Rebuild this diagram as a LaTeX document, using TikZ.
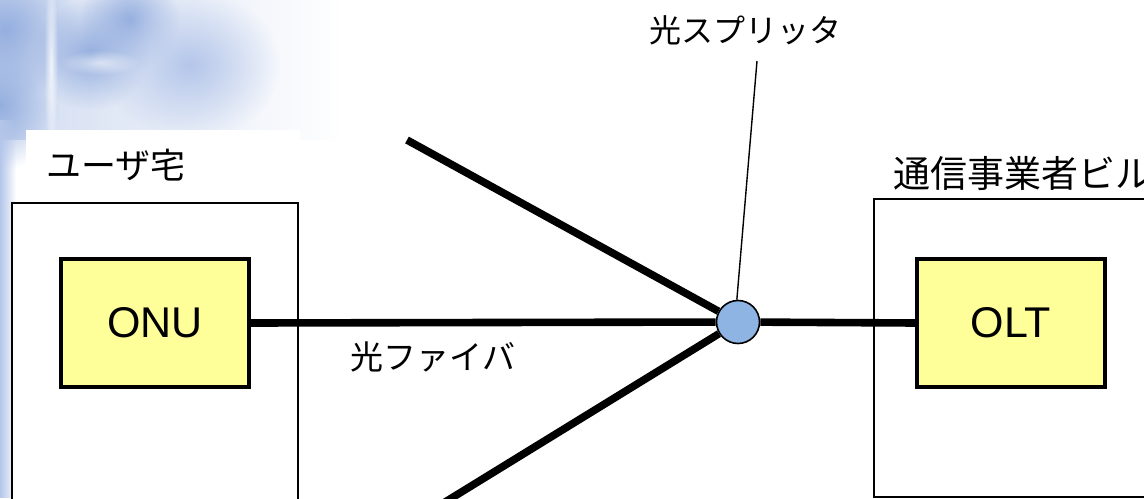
\documentclass[tikz,border=0pt]{standalone}
\usepackage{fontspec}
\setmainfont{Liberation Sans}
\newfontfamily\jpfont{Noto Sans CJK JP}
\usetikzlibrary{fadings}
\tikzfading[name=softblob, inner color=transparent!0, outer color=transparent!100]
\definecolor{boxyellow}{HTML}{FFFF99}
\definecolor{splblue}{HTML}{8DB4E2}
\definecolor{bgblueA}{HTML}{94AEDF}
\definecolor{bgblueB}{HTML}{D2DDF2}
\definecolor{bgblueC}{HTML}{B4C6EA}
\tikzset{
  bldg/.style={draw=black, line width=0.8pt, fill=white, rectangle, inner sep=0pt},
  device/.style={draw=black, line width=1.6pt, fill=boxyellow, rectangle, inner sep=0pt,
    minimum width=94pt, minimum height=64pt, font=\fontsize{21.5pt}{22pt}\selectfont},
  fiber/.style={line width=3.8pt, line cap=butt},
  splitter/.style={circle, draw=black, line width=0.8pt, fill=splblue, minimum size=21.5pt, inner sep=0pt},
  jplabel/.style={inner sep=0pt, font=\jpfont\fontsize{16pt}{16pt}\selectfont},
  leader/.style={line width=0.7pt}
}
\begin{document}
\begin{tikzpicture}[x=0.5pt, y=-0.5pt]
\useasboundingbox (0,0) rectangle (1144,498);
\clip (0,0) rectangle (1144,498);
\fill[white] (0,0) rectangle (1144,498);
% blurred background picture (top-left)
\fill[bgblueB, path fading=east] (0,0) rectangle (340,140);
\fill[bgblueA, path fading=softblob] (-70,-40) rectangle (80,100);
\fill[bgblueA, path fading=softblob] (-60,40) rectangle (60,170);
\fill[bgblueA, path fading=softblob] (30,0) rectangle (150,110);
\fill[bgblueA, path fading=softblob] (80,-30) rectangle (180,70);
\fill[bgblueC, path fading=softblob] (100,-10) rectangle (280,140);
\fill[white, opacity=0.8, path fading=softblob] (44,-40) rectangle (58,170);
\fill[white, opacity=0.6, path fading=softblob] (60,50) rectangle (140,75);
\fill[bgblueC, path fading=east] (0,120) rectangle (16,498);
% buildings
\node[bldg, minimum width=143pt, minimum height=180pt] (user) at (155,383) {};
\node[bldg, minimum width=143pt, minimum height=149pt] (carrier) at (1017,348) {};
\fill[white] (26,130) rectangle (300,195);
\node[jplabel, anchor=west, font=\jpfont\fontsize{17.5pt}{17.5pt}\selectfont] (userlbl) at (46,165) {ユーザ宅};
\node[jplabel, anchor=west, font=\jpfont\fontsize{18.5pt}{18.5pt}\selectfont] (carrierlbl) at (893,173) {通信事業者ビル};
% devices
\node[device] (onu) at (155,323) {ONU};
\node[device] (olt) at (1011,323) {OLT};
\node[splitter] (spl) at (738,322) {};
% fibers
\coordinate (up) at (407,140);
\coordinate (down) at (424,515);
\draw[fiber] (onu.east) -- (spl);
\draw[fiber] (spl) -- (olt.west);
\draw[fiber] (up) -- (spl);
\draw[fiber] (down) -- (spl);
% labels
\node[jplabel, font=\jpfont\fontsize{16.5pt}{16.5pt}\selectfont] (fiberlbl) at (433,357) {光ファイバ};
\node[jplabel] (spllbl) at (745,30) {光スプリッタ};
\coordinate (lead) at (757,61);
\draw[leader] (lead) -- (spl.93);
\end{tikzpicture}
\end{document}
